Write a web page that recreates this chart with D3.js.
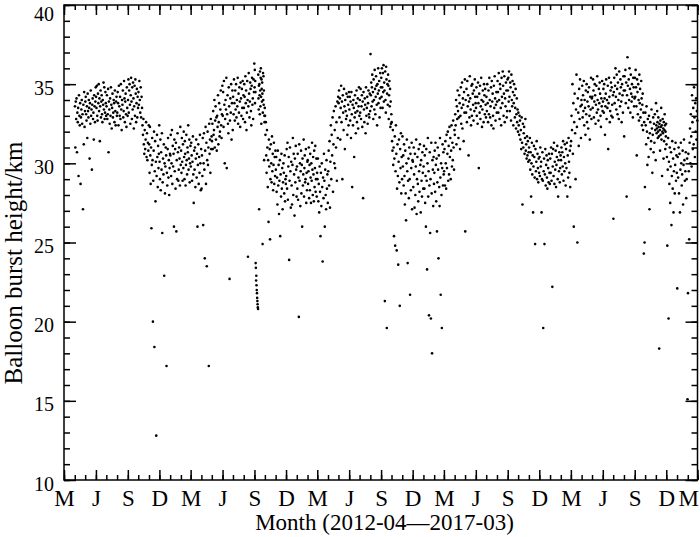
<!DOCTYPE html>
<html>
<head>
<meta charset="utf-8">
<script src="https://cdn.jsdelivr.net/npm/d3@7"></script>
<style>
  body { margin: 0; background: #fff; }
  text { font-family: "Liberation Serif", "Times New Roman", serif; fill: #000; }
</style>
</head>
<body>
<div id="chart"></div>
<script>
// Balloon burst heights (km), one list per month, in launch order
var h2012 = [
  [33.6,31.0,33.9,32.8,34.1,30.7,33.2,32.6,33.5,29.2,34.3,33.0,32.4,33.8,28.7,32.9,33.4,34.0,32.5,33.1,27.1,33.7,31.2,34.5,32.3,33.3],
  [33.9,34.2,33.1,32.7,33.6,31.6,34.4,33.3,32.9,34.0,33.5,30.3,33.8,32.5,34.6,33.0,33.4,29.6,33.7,34.1,32.8,33.2,31.5,34.3,33.6,32.6,33.9,34.8],
  [34.2,33.5,34.9,33.0,32.7,34.4,33.8,35.0,33.3,34.1,31.4,33.6,34.6,32.9,33.9,34.3,33.1,32.6,34.0,33.7,35.1,33.4,34.8,32.8,33.2,34.5,33.8,33.0],
  [33.6,34.3,32.8,33.1,34.7,30.7,33.9,33.4,32.5,34.1,33.0,34.8,33.7,32.2,33.5,34.4,32.9,33.2,34.0,33.8,32.6,34.6,33.3,32.4,33.9,34.2,33.0],
  [33.2,34.5,33.8,32.4,34.9,33.6,33.0,34.2,32.8,35.0,33.4,32.1,34.0,33.7,34.6,32.9,33.3,35.2,34.1,32.6,33.9,34.4,33.1,32.3,34.8,33.5,33.0],
  [34.0,35.3,33.2,34.6,35.0,33.7,32.5,34.3,35.4,33.9,32.8,34.8,33.4,35.1,34.1,32.2,33.6,34.9,33.0,35.3,34.4,32.6,33.8,34.7,32.9,34.2,33.5],
  [34.5,33.7,35.2,34.0,33.2,34.8,32.9,34.2,33.5,32.4,31.8,32.8,31.2,30.6,32.1,30.9,31.5,32.6,30.4,31.9,30.2,31.3,30.8,32.4],
  [31.2,29.4,32.3,30.5,28.7,31.0,25.9,29.9,31.6,30.2,20.0,28.9,30.8,32.0,18.4,29.5,31.4,27.6,30.1,12.8,29.2,31.8,30.4,28.5,31.1,29.7,30.6,32.4],
  [30.1,29.0,31.5,28.3,30.7,29.6,31.9,25.6,28.8,30.3,29.3,31.2,22.9,30.0,28.1,29.8,31.0,30.5,17.2,29.4,28.6,30.9,31.6,29.1,30.2,28.0,29.7,30.6]
];
var h2013 = [
  [30.5,31.8,29.2,30.0,32.1,28.7,31.1,29.8,30.6,26.0,31.5,29.5,30.9,28.4,31.3,25.7,30.2,29.0,31.9,30.7,28.9,29.6,31.0,30.3,28.6,32.3,29.9],
  [30.8,29.4,31.6,30.1,28.9,31.2,29.7,32.0,30.4,29.0,31.4,30.6,28.6,29.9,31.8,30.2,29.3,31.0,30.7,32.4,29.6,30.3,31.5,28.8,30.0,31.1],
  [29.8,31.3,30.5,28.9,30.1,31.7,29.3,27.5,30.8,29.6,31.0,28.5,30.3,31.5,29.1,30.6,26.0,29.9,31.2,28.7,30.4,29.4,31.8,30.0,28.3,30.9],
  [28.4,30.5,29.2,31.6,26.1,30.0,31.9,29.6,24.0,30.8,32.3,28.7,31.3,23.5,30.2,32.0,29.9,31.0,17.2,32.5,30.6,31.5,29.4,32.8,30.9,31.7],
  [31.4,32.5,30.9,33.3,31.8,32.1,34.0,31.0,32.7,33.6,31.5,32.9,30.8,33.0,32.3,34.3,31.2,32.6,33.8,31.7,32.0,33.4,34.6,32.4,31.6,33.1,34.9],
  [33.0,34.5,32.3,35.2,33.7,30.0,32.8,34.0,33.4,35.4,29.7,33.1,34.3,32.5,31.9,34.8,33.6,22.7,32.7,34.1,33.2,35.0,31.5,33.8,34.6,32.1],
  [34.2,33.1,35.3,33.8,32.7,34.6,33.4,35.0,32.9,34.0,33.6,35.4,32.5,34.4,33.2,34.8,33.9,32.3,35.1,34.1,33.0,34.7,33.5,35.2,32.8,34.3],
  [33.5,35.0,34.2,32.6,35.5,33.8,34.6,32.1,33.2,35.2,34.0,24.1,33.6,35.7,34.4,32.9,33.9,35.1,34.7,33.3,32.4,34.9,35.4,33.7,34.1,32.8,35.3,34.5,36.3],
  [34.8,35.9,33.8,35.2,34.5,23.7,23.4,22.6,22.9,22.3,22.0,21.8,21.5,21.3,21.1,20.9,20.8,35.6,34.1,33.4,34.9,27.1,35.0,34.3,33.1,35.8,34.6,33.6,35.4,36.0,34.2,32.5,35.3,34.7,33.9,35.1,34.4,24.9,33.2,35.7,34.0,35.5,33.7,34.6,30.2,33.0,32.6,33.5],
  [33.0,31.8,32.6,30.5,29.4,32.1,31.0,28.5,30.2,26.3,31.5,29.8,30.9,25.2,29.0,31.2,30.0,28.8,31.7,29.5,30.6,28.3,29.9,31.3,28.7,30.4,29.2,30.8],
  [29.6,30.4,28.2,29.1,27.4,30.8,28.6,29.9,26.8,28.9,30.2,25.4,29.3,27.9,30.6,28.4,29.7,27.1,28.8,30.0,29.4,28.1,30.5,27.6,29.0,28.7],
  [29.2,30.9,28.4,31.3,27.7,29.8,30.4,23.9,28.9,31.0,29.5,27.2,30.1,28.6,27.4,29.9,31.6,28.0,30.6,29.3,26.7,30.3,28.8,31.1,29.6,27.9]
];
var h2014 = [
  [29.8,28.4,30.6,27.7,29.1,20.3,31.2,28.9,30.0,27.3,29.5,30.8,28.1,29.9,26.0,30.3,28.6,29.3,31.5,27.9,29.7,30.5,28.8,29.0,30.9,27.5,29.4,28.3,30.1],
  [30.2,28.7,29.5,31.0,27.8,29.9,28.3,30.6,29.1,27.5,30.0,28.9,31.3,29.6,28.0,30.4,29.3,27.6,30.8,28.5,29.7,31.1,28.2,29.0,30.3,27.9,29.4],
  [29.0,30.3,27.6,28.7,26.9,29.8,28.2,25.4,29.4,27.3,30.0,28.5,23.8,29.1,27.8,30.6,28.9,26.0,29.6,28.0,27.1,30.2,28.4,29.3,27.5],
  [29.5,30.8,28.6,31.4,27.2,30.1,32.4,29.0,31.8,30.5,32.9,28.2,31.2,33.3,30.0,32.1,29.7,33.6,31.0,32.6,28.9,33.9,31.6,34.2],
  [33.8,34.6,32.9,34.1,31.5,33.5,34.9,32.6,33.9,29.0,34.3,33.2,32.1,34.7,33.6,30.9,34.0,33.3,32.8,34.4,33.0,31.8,34.2,33.7,32.4,34.5],
  [33.4,34.2,32.7,33.9,31.6,34.5,33.1,28.5,33.7,32.4,34.0,33.5,30.4,32.9,34.3,33.2,31.9,33.8,34.6,32.6,33.3,34.1,32.2,33.6,34.8,33.0],
  [34.0,33.2,34.7,32.8,33.6,34.3,32.3,33.9,27.8,34.5,33.4,32.6,34.1,33.7,31.9,34.8,33.0,33.5,34.2,32.5,33.8,34.6,33.1,32.9,34.4,33.3],
  [36.9,34.3,35.1,33.6,34.8,35.6,33.9,34.5,32.8,35.3,34.0,33.4,35.9,34.7,33.1,34.2,35.5,34.9,33.7,32.4,35.0,34.4,36.0,33.8,34.6,35.2,32.9,34.1,35.7,33.5,34.8],
  [35.4,34.2,36.0,34.8,33.5,35.7,34.5,36.2,33.9,35.1,34.6,21.3,35.8,34.0,33.2,36.1,35.3,19.6,34.4,35.0,33.7,35.6,34.9,32.8,34.3,35.2,33.6,34.7,32.3,33.9,32.5,33.1],
  [32.6,31.4,30.8,32.1,29.9,31.0,25.4,30.3,31.7,24.8,29.5,32.4,30.6,24.5,28.4,31.2,29.2,23.6,30.1,31.5,28.8,21.0,30.9,29.7,31.9,28.1,30.4,29.0],
  [31.7,29.8,30.5,28.6,31.2,29.2,27.4,30.8,28.1,26.4,30.0,31.5,29.5,23.7,28.9,30.3,27.8,31.0,29.0,21.7,30.6,28.3,29.7,31.3,27.1,30.2],
  [30.1,28.5,31.0,29.3,27.2,30.6,28.0,29.8,31.5,26.8,29.0,30.4,28.7,27.6,30.9,29.5,28.2,31.2,29.9,26.9,30.2,28.9,27.9,30.7,29.4,28.4]
];
var h2015 = [
  [29.8,31.1,28.4,30.5,27.5,29.2,26.0,30.9,28.9,23.3,30.0,31.6,27.9,29.5,20.4,28.6,30.7,25.6,29.0,20.2,31.3,28.1,18.0,30.2,29.6,27.3,30.4,28.7],
  [29.4,30.8,28.2,31.3,29.9,27.6,30.3,25.7,28.8,31.0,29.6,24.0,30.5,28.5,27.3,31.6,29.1,21.7,30.0,28.0,19.6,29.7,31.2,28.6,30.7,29.3],
  [29.5,30.9,28.6,31.4,30.0,28.4,31.8,29.7,30.6,32.0,28.9,31.1,29.3,32.3,30.4,31.6,29.0,30.8,32.4,29.8,31.3,30.2,32.7,31.0,29.6,32.1],
  [31.8,33.1,32.4,34.0,31.2,33.6,32.8,34.6,33.3,31.6,32.9,34.3,33.8,30.9,33.0,34.8,32.5,33.5,35.1,32.2,34.1,33.7,31.4,34.5,33.2,35.3],
  [25.7,34.0,33.2,34.7,32.6,35.2,33.6,34.3,30.5,33.9,32.9,35.5,34.1,33.4,32.4,34.9,33.0,35.0,34.4,33.7,32.7,34.6,33.3,35.3,34.2,33.8],
  [33.5,34.8,33.0,34.2,32.5,35.1,33.8,29.7,34.4,33.2,34.9,32.8,33.6,35.4,34.0,32.3,33.4,34.6,33.9,32.6,35.0,34.3,33.1,34.7,33.7,32.9],
  [34.2,33.3,35.0,33.8,32.6,34.6,33.1,35.4,34.0,32.9,33.6,34.8,32.4,35.2,33.9,34.4,33.0,32.2,34.9,33.5,35.5,34.1,32.7,33.7,34.5,33.2],
  [33.9,35.2,34.5,33.2,35.7,34.0,32.8,35.0,34.7,33.5,32.4,35.4,34.2,33.8,35.8,34.9,33.0,34.4,35.5,32.6,34.1,33.6,35.1,34.6,32.9,33.3,35.3],
  [34.6,35.4,33.9,35.8,34.2,33.3,35.1,34.8,32.7,35.6,34.0,33.6,35.2,34.5,32.4,33.8,35.0,34.3,32.9,33.5,34.7,32.2,33.1,34.1,32.6,33.4,32.0],
  [33.2,32.4,31.8,33.0,32.7,31.5,32.1,30.9,32.9,31.3,27.4,32.5,31.0,31.9,32.3,30.6,31.6,32.8,30.8,31.2,30.3,31.7,30.5,31.4,30.1,30.7],
  [31.0,30.2,31.6,29.6,30.7,27.9,30.0,31.3,29.3,30.5,26.9,29.8,31.1,30.4,29.1,24.9,30.9,29.5,30.1,31.4,29.0,30.6,29.7,28.8,30.3,29.4],
  [30.4,29.2,31.0,29.8,30.1,26.9,29.0,30.7,28.9,19.6,29.5,30.3,24.9,29.3,30.9,28.6,29.9,30.5,29.1,28.4,30.2,29.7,28.8,30.6,29.4,28.7]
];
var h2016 = [
  [30.3,29.4,31.0,28.9,30.6,22.2,29.8,30.9,29.2,31.3,28.7,30.1,29.6,30.8,28.5,29.9,30.4,31.1,29.0,27.9,30.2,29.5,30.7,28.8,29.7,30.5],
  [30.2,31.0,29.3,30.7,29.8,31.4,28.9,30.4,29.5,31.2,30.0,28.6,30.9,29.7,31.3,27.9,30.5,29.1,31.6,30.1,29.4,30.8,28.5,31.1],
  [31.4,33.0,32.1,35.0,30.6,33.8,26.0,32.6,34.4,31.9,29.0,33.4,35.6,32.3,25.0,34.1,33.2,31.1,34.7,32.8,35.3,33.6,31.6,34.0],
  [33.7,34.9,32.9,34.3,33.3,35.2,32.4,34.0,33.5,31.8,34.6,33.1,35.0,32.6,33.9,34.5,32.2,33.6,34.8,33.0,31.5,34.2,33.4,35.4,32.8,34.1],
  [34.2,33.5,35.3,34.6,32.9,33.9,35.0,34.3,32.5,33.7,34.9,33.2,35.5,34.0,33.4,32.7,34.7,33.8,35.1,34.4,33.0,32.3,34.1,33.6,35.2,33.3],
  [33.9,34.7,33.2,35.0,34.1,31.8,33.6,34.4,35.3,32.8,34.0,33.5,34.9,30.9,33.8,35.4,34.2,32.6,33.3,34.6,35.1,33.0,34.8,33.7,32.9,34.3],
  [26.5,34.5,35.4,33.8,34.9,36.0,34.2,33.4,35.6,34.7,33.1,35.1,34.0,32.8,35.8,34.4,33.6,35.3,34.8,33.9,32.6,35.0,34.3,33.2,35.5,34.6],
  [31.7,35.5,34.6,35.9,33.8,35.1,27.9,34.3,36.7,34.9,33.5,35.3,34.0,36.0,34.7,33.2,35.6,34.4,33.9,35.0,34.2,32.9,35.4,34.8,33.6,34.1],
  [35.4,34.2,35.9,34.8,33.6,30.5,35.3,34.5,33.1,35.0,34.0,32.7,35.6,33.8,34.7,32.9,33.4,35.2,34.1,32.4,33.7,34.4,32.1,33.2,24.3,32.6,25.0,28.5],
  [33.2,32.4,31.2,33.6,32.0,29.9,32.8,31.6,30.4,33.0,27.1,31.9,32.6,30.9,31.4,33.4,32.2,29.4,31.8,32.9,30.7,32.5,31.3,33.1,32.1,30.2],
  [33.8,32.4,31.9,32.2,33.3,32.6,31.6,32.0,32.9,32.3,31.7,18.3,32.5,32.1,30.8,32.7,31.8,32.3,33.5,31.5,32.4,29.2,32.0,32.8,31.9,32.2,30.3,32.6,31.4,32.1,33.1,32.4,30.9,32.0,31.7,32.5],
  [31.2,30.4,24.8,29.6,31.6,20.2,30.1,28.7,31.0,27.5,29.8,30.7,26.1,29.2,31.4,28.4,30.3,26.9,29.5,30.9,28.1,29.9,31.3,28.9,30.5,29.4]
];
var h2017 = [
  [22.1,30.4,29.1,31.0,28.1,30.6,26.9,29.6,31.3,30.0,28.6,29.3,30.8,27.4,29.9,31.5,30.2,28.9,29.5,30.7,27.8,29.0,30.3,15.1],
  [21.8,30.6,29.5,25.2,31.3,32.2,30.0,33.1,31.7,29.8,34.3,32.6,30.9,33.5,31.2,34.8,32.9,30.4,33.8,32.0,34.1,31.5,33.3,32.7]
];

var firstMonth = new Date(2012, 3, 1);   // April 2012
var axisStart = new Date(2012, 2, 1);
var axisEnd = new Date(2017, 2, 1);
var monthLetters = { 2: "M", 5: "J", 8: "S", 11: "D" };
var yMajor = [10, 15, 20, 25, 30, 35, 40];

var svgWidth = 700;
var svgHeight = 537;
var margin = { top: 5, right: 2.5, bottom: 57, left: 64 };
var width = svgWidth - margin.left - margin.right;
var height = svgHeight - margin.top - margin.bottom;

// one point per sounding, spread through its month
var months = [].concat(h2012, h2013, h2014, h2015, h2016, h2017);
var points = [];
months.forEach(function(vals, i) {
  var m0 = d3.timeMonth.offset(firstMonth, i);
  var m1 = d3.timeMonth.offset(firstMonth, i + 1);
  vals.forEach(function(v, j) {
    points.push({ date: new Date(+m0 + (j + 0.5) / vals.length * (m1 - m0)), h: v });
  });
});

var svg = d3.select("#chart")
  .append("svg")
  .attr("width", svgWidth)
  .attr("height", svgHeight);

var chartGroup = svg.append("g")
  .attr("transform", `translate(${margin.left}, ${margin.top})`);

var xScale = d3.scaleTime().domain([axisStart, axisEnd]).range([0, width]);
var yScale = d3.scaleLinear().domain([10, 40]).range([height, 0]);

var allMonths = d3.timeMonth.range(axisStart, d3.timeMonth.offset(axisEnd, 1));
var labelMonths = allMonths.filter(d => monthLetters[d.getMonth()]);
var yMinor = d3.range(10, 41, 1);

function styleAxis(g) {
  g.select(".domain").remove();
  g.selectAll("line").attr("stroke", "#000").attr("stroke-width", 1.5);
  g.selectAll("text").style("font-family", '"Liberation Serif", serif').attr("fill", "#000");
}

// bottom axis: minor ticks each month, major ticks with letters
chartGroup.append("g")
  .attr("transform", `translate(0, ${height})`)
  .call(d3.axisBottom(xScale).tickValues(allMonths).tickSize(-5).tickFormat(""))
  .call(styleAxis);
chartGroup.append("g")
  .attr("transform", `translate(0, ${height})`)
  .call(d3.axisBottom(xScale).tickValues(labelMonths).tickSize(-10).tickPadding(10)
    .tickFormat(d => monthLetters[d.getMonth()]))
  .call(styleAxis)
  .selectAll("text")
  .style("font-size", "23px")
  // last letter sits flush with the right edge
  .style("text-anchor", d => +d === +axisEnd ? "end" : "middle")
  .attr("x", d => +d === +axisEnd ? 1 : 0);

// top axis ticks
chartGroup.append("g")
  .call(d3.axisTop(xScale).tickValues(allMonths).tickSize(-5).tickFormat(""))
  .call(styleAxis);
chartGroup.append("g")
  .call(d3.axisTop(xScale).tickValues(labelMonths).tickSize(-10).tickFormat(""))
  .call(styleAxis);

// left axis
chartGroup.append("g")
  .call(d3.axisLeft(yScale).tickValues(yMinor).tickSize(-6).tickFormat(""))
  .call(styleAxis);
var leftMajor = chartGroup.append("g")
  .call(d3.axisLeft(yScale).tickValues(yMajor).tickSize(-12).tickPadding(10).tickFormat(d3.format("d")))
  .call(styleAxis);
leftMajor.selectAll("text")
  .style("font-size", "20px")
  .attr("dy", d => d === 40 ? "0.75em" : "0.5em");

// right axis ticks
chartGroup.append("g")
  .attr("transform", `translate(${width}, 0)`)
  .call(d3.axisRight(yScale).tickValues(yMinor).tickSize(-6).tickFormat(""))
  .call(styleAxis);
chartGroup.append("g")
  .attr("transform", `translate(${width}, 0)`)
  .call(d3.axisRight(yScale).tickValues(yMajor).tickSize(-12).tickFormat(""))
  .call(styleAxis);

// frame
chartGroup.append("rect")
  .attr("width", width)
  .attr("height", height)
  .attr("fill", "none")
  .attr("stroke", "#000")
  .attr("stroke-width", 1.5);

// points
chartGroup.selectAll("circle")
  .data(points)
  .enter()
  .append("circle")
  .attr("cx", d => xScale(d.date))
  .attr("cy", d => yScale(d.h))
  .attr("r", 1.3)
  .attr("fill", "#000");

// axis titles
chartGroup.append("text")
  .attr("transform", "rotate(-90)")
  .attr("y", 22 - margin.left)
  .attr("x", 0 - (263 - margin.top))
  .style("text-anchor", "middle")
  .style("font-size", "25px")
  .text("Balloon burst height/km");

chartGroup.append("text")
  .attr("x", (254 + 515) / 2 - margin.left)
  .attr("y", 530 - margin.top)
  .style("text-anchor", "middle")
  .style("font-size", "23px")
  .text("Month (2012-04\u20142017-03)");
</script>
</body>
</html>
